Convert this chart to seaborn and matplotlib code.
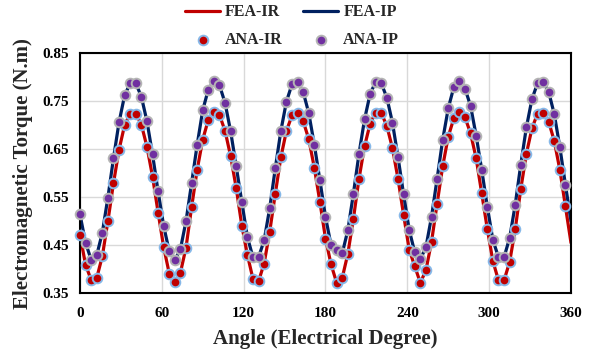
import numpy as np
import matplotlib
matplotlib.use("Agg")
import matplotlib.pyplot as plt
import seaborn as sns

# Torque samples every 360/88 electrical degrees (last point at 360 belongs to the FEA curves only)
angle = np.arange(89) * 360.0 / 88

torque_ir = [
    0.472, 0.409, 0.378, 0.382, 0.427, 0.500, 0.579, 0.649, 0.700, 0.724, 0.724, 0.701, 0.655, 0.593, 0.518,
    0.446, 0.391, 0.373, 0.393, 0.445, 0.529, 0.607, 0.670, 0.711, 0.728, 0.721, 0.688, 0.635, 0.569,
    0.491, 0.430, 0.380, 0.375, 0.412, 0.478, 0.557, 0.633, 0.688, 0.720, 0.726, 0.708, 0.671, 0.611, 0.540,
    0.464, 0.410, 0.372, 0.382, 0.432, 0.505, 0.588, 0.656, 0.703, 0.726, 0.725, 0.698, 0.652, 0.588,
    0.513, 0.441, 0.406, 0.372, 0.398, 0.457, 0.536, 0.614, 0.676, 0.714, 0.727, 0.716, 0.683, 0.631, 0.558,
    0.484, 0.417, 0.377, 0.377, 0.415, 0.483, 0.567, 0.640, 0.693, 0.724, 0.726, 0.707, 0.667, 0.607, 0.531,
    0.455,
]

torque_ip = [
    0.514, 0.455, 0.420, 0.429, 0.476, 0.549, 0.631, 0.706, 0.762, 0.787, 0.787, 0.759, 0.708, 0.639, 0.562,
    0.490, 0.437, 0.419, 0.442, 0.500, 0.579, 0.659, 0.731, 0.774, 0.792, 0.783, 0.746, 0.687, 0.614,
    0.540, 0.467, 0.425, 0.425, 0.460, 0.527, 0.610, 0.688, 0.749, 0.785, 0.790, 0.769, 0.725, 0.659, 0.585,
    0.509, 0.450, 0.440, 0.433, 0.481, 0.557, 0.640, 0.712, 0.765, 0.790, 0.787, 0.757, 0.705, 0.633,
    0.556, 0.482, 0.435, 0.421, 0.446, 0.509, 0.588, 0.669, 0.735, 0.779, 0.791, 0.776, 0.740, 0.678, 0.607,
    0.530, 0.461, 0.425, 0.425, 0.465, 0.534, 0.618, 0.695, 0.754, 0.787, 0.790, 0.769, 0.723, 0.654, 0.576,
    0.500,
]

n_ana = 88  # analytical points stop one step before 360

x_ticks = [0, 60, 120, 180, 240, 300, 360]
y_ticks = [0.35, 0.45, 0.55, 0.65, 0.75, 0.85]

RED = "#C00000"
NAVY = "#002060"
PURPLE = "#7030A0"

sns.set_theme(style="white")
plt.rcParams["font.family"] = ["Liberation Serif", "DejaVu Serif"]
plt.rcParams["font.weight"] = "bold"

fig = plt.figure(figsize=(5.93, 3.55), dpi=100)
ax = fig.add_axes([0.1349, 0.1738, 0.9629 - 0.1349, 0.8507 - 0.1738])

sns.lineplot(x=angle, y=torque_ir, ax=ax, color=RED, linewidth=2.3, label="FEA-IR", sort=False)
sns.lineplot(x=angle, y=torque_ip, ax=ax, color=NAVY, linewidth=2.3, label="FEA-IP", sort=False)
sns.scatterplot(x=angle[:n_ana], y=torque_ir[:n_ana], ax=ax, s=48, color=RED,
                edgecolor="#86B8E8", linewidth=1.4, label="ANA-IR", clip_on=False, zorder=4)
sns.scatterplot(x=angle[:n_ana], y=torque_ip[:n_ana], ax=ax, s=48, color=PURPLE,
                edgecolor="#B4B4B4", linewidth=1.4, label="ANA-IP", clip_on=False, zorder=5)

ax.set_xlim(0, 360)
ax.set_ylim(0.35, 0.85)
ax.set_xticks(x_ticks)
ax.set_yticks(y_ticks)
ax.set_yticklabels([f"{v:.2f}" for v in y_ticks])
ax.grid(True, color="#D9D9D9", linewidth=1.0)
ax.set_axisbelow(True)
ax.tick_params(axis="both", length=0, labelsize=11, colors="black")
ax.tick_params(axis="x", pad=10)
ax.tick_params(axis="y", pad=8)
for lab in ax.get_xticklabels() + ax.get_yticklabels():
    lab.set_fontweight("bold")
for sp in ax.spines.values():
    sp.set_visible(True)
    sp.set_color("black")
    sp.set_linewidth(1.5)

ax.set_xlabel("Angle (Electrical Degree)", fontsize=15, fontweight="bold", labelpad=6)
ax.set_ylabel("Electromagnetic Torque (N.m)", fontsize=15, fontweight="bold", labelpad=7)

handles, labels = ax.get_legend_handles_labels()
order = [0, 2, 1, 3]
leg = ax.legend([handles[i] for i in order], [labels[i] for i in order], ncol=2,
                loc="lower center", bbox_to_anchor=(0.432, 1.0), frameon=False,
                prop={"weight": "bold", "size": 11.5}, handlelength=2.2, handletextpad=0.3,
                columnspacing=1.3, labelspacing=0.75, borderaxespad=0.0, borderpad=0.3)

fig.savefig("out.png", dpi=100)
